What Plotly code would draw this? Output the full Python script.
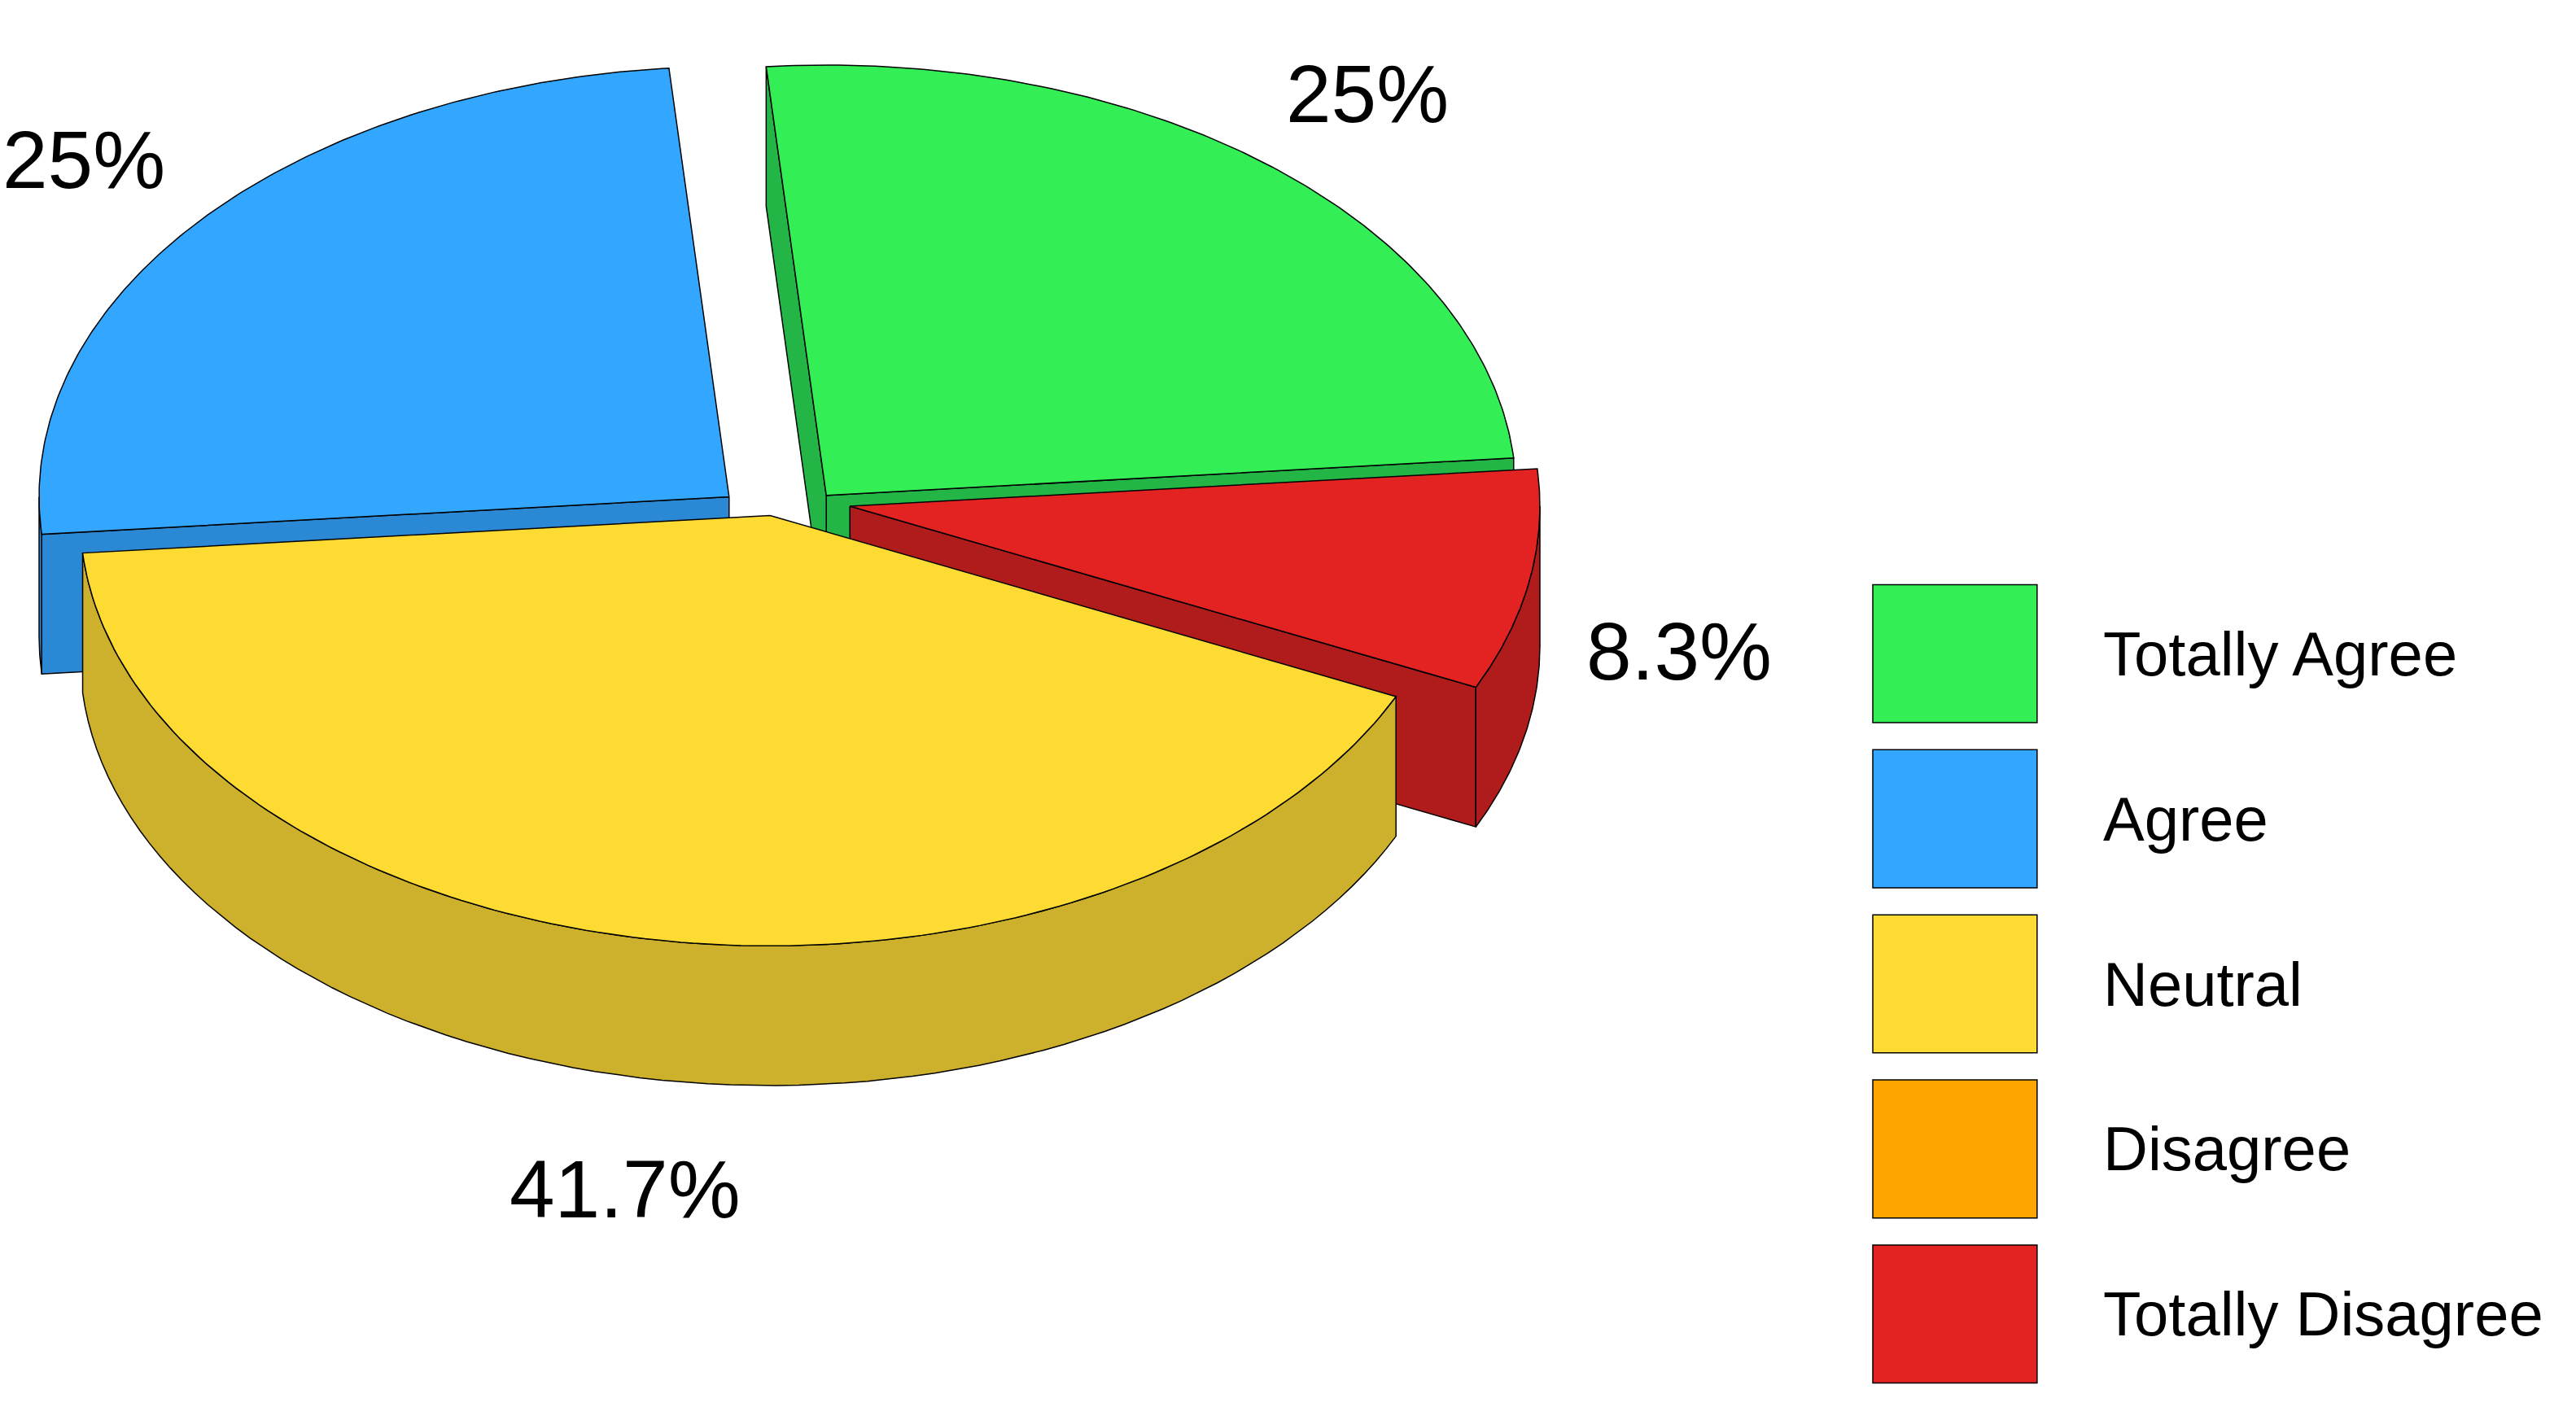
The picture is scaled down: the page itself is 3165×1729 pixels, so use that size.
import numpy as np
import plotly.graph_objects as go

categories = ["Totally Agree", "Agree", "Neutral", "Disagree", "Totally Disagree"]
values = [25.0, 25.0, 41.7, 0.0, 8.3]
top_colors = ["#33EE55", "#33A6FF", "#FDDB33", "#FFA500", "#E32222"]
side_colors = ["#23B545", "#2A88D4", "#CDB02B", "#C98200", "#B01C1C"]
label_text = ["25%", "25%", "41.7%", "", "8.3%"]

W, H = 3165, 1729
S = W / 1568.0
CX, CY, A, B, DEPTH = 472, 303, 420, 262, 85
EX, EY = 42, 7
START = 5.0

fig = go.Figure()

def P(th, ox, oy, r=1.0, dz=0.0):
    t = np.radians(th)
    return CX + ox + r * A * np.cos(t), CY + oy - r * B * np.sin(t) + dz

def poly(xs, ys, color):
    fig.add_trace(go.Scatter(x=list(xs), y=list(ys), mode="lines", fill="toself",
                             fillcolor=color, line=dict(color="black", width=1.5),
                             hoverinfo="skip", showlegend=False))

slices = []
ang = START
total = sum(values)
for i, v in enumerate(values):
    span = 360.0 * v / total
    if v > 0:
        slices.append((i, ang, ang + span))
    ang += span

def draw_slice(i, s, e):
    mid = np.radians((s + e) / 2)
    ox, oy = EX * np.cos(mid), -EY * np.sin(mid)
    cx0, cy0 = CX + ox, CY + oy
    for th, nrm in ((s, s - 90), (e, e + 90)):
        if np.sin(np.radians(nrm)) < 0:
            x1, y1 = P(th, ox, oy)
            poly([cx0, x1, x1, cx0, cx0], [cy0, y1, y1 + DEPTH, cy0 + DEPTH, cy0], side_colors[i])
    for lo, hi in ((-180, 0), (180, 360), (540, 720)):
        a0, a1 = max(s, lo), min(e, hi)
        if a1 > a0:
            th = np.linspace(a0, a1, 80)
            xs, ys = P(th, ox, oy)
            poly(np.concatenate([xs, xs[::-1], xs[:1]]),
                 np.concatenate([ys, ys[::-1] + DEPTH, ys[:1]]), side_colors[i])
    th = np.linspace(s, e, 150)
    xs, ys = P(th, ox, oy)
    poly(np.concatenate([[cx0], xs, [cx0]]), np.concatenate([[cy0], ys, [cy0]]), top_colors[i])
    lx, ly = P((s + e) / 2, ox, oy, r=1.22)
    if np.sin(mid) < 0:
        ly += DEPTH * 0.9 * (-np.sin(mid)) + 20
    fig.add_annotation(x=lx, y=ly, text=label_text[i], showarrow=False,
                       font=dict(size=100, color="black", family="Liberation Sans"))

order = sorted(slices, key=lambda t: -np.sin(np.radians((t[1] + t[2]) / 2)))
for i, s, e in order:
    draw_slice(i, s, e)

for k, name in enumerate(categories):
    y0 = 352 + k * 100.5
    fig.add_shape(type="rect", x0=1136, x1=1236, y0=y0, y1=y0 + 84,
                  fillcolor=top_colors[k], line=dict(color="black", width=1.5))
    fig.add_annotation(x=1275, y=y0 + 42, text=name, showarrow=False, xanchor="left",
                       font=dict(size=76, color="black", family="Liberation Sans"))

fig.update_layout(width=W, height=H, margin=dict(l=0, r=0, t=0, b=0),
                  paper_bgcolor="white", plot_bgcolor="white",
                  xaxis=dict(range=[0, W / S], visible=False),
                  yaxis=dict(range=[H / S, 0], visible=False))
fig.write_html("out.html")
